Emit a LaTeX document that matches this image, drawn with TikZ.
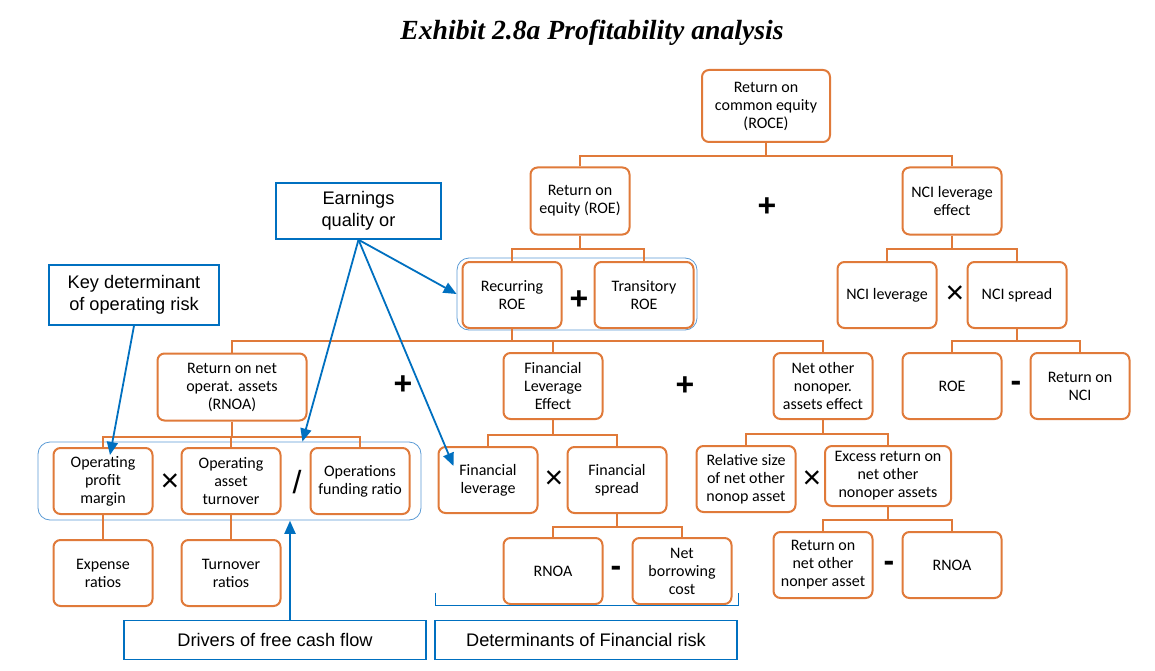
\documentclass[tikz,border=0pt]{standalone}
\usepackage{fontspec}
\setmainfont{Carlito}
\newfontfamily\labelfont{Liberation Sans}
\newfontfamily\titlefont{Liberation Serif}
\usetikzlibrary{arrows.meta,positioning,calc}
\definecolor{boxorange}{RGB}{224,122,58}
\definecolor{noteblue}{RGB}{0,112,192}
\definecolor{groupblue}{RGB}{91,155,213}
\tikzset{
    diagramblock/.style={draw=boxorange, line width=2pt, rounded corners=7pt, align=center, font=\fontsize{16}{18}\selectfont, minimum width=99, minimum height=66, inner sep=1pt},
    diagramnote/.style={draw=noteblue, line width=1.5pt, align=center, font=\labelfont\fontsize{18.2}{22}\selectfont, inner sep=2pt},
    diagramgroup/.style={draw=groupblue, line width=0.8pt, rounded corners=12pt},
    diagramop/.style={font=\labelfont\bfseries\fontsize{32}{32}\selectfont, inner sep=0pt},
    diagramtimes/.style={font=\labelfont\fontsize{32}{32}\selectfont, inner sep=0pt},
    diagramline/.style={draw=boxorange, line width=2pt},
    diagramarrow/.style={draw=noteblue, line width=1.8pt, -{Triangle[length=13pt,width=11pt]}}
}
\begin{document}
\begin{tikzpicture}[x=1pt, y=-1pt]
        \useasboundingbox[fill=white] (0,0) rectangle (1155,671);
        \node[font=\titlefont\bfseries\itshape\fontsize{27.7}{30}\selectfont] (title) at (592,33) {Exhibit 2.8a Profitability analysis};
        % blue groups behind the boxes
        \node[diagramgroup, minimum width=240, minimum height=72] (recgrp) at (577,294) {};
        \node[diagramgroup, minimum width=383, minimum height=78] (opgrp) at (229.5,481) {};
        % top of the tree
        \node[diagramblock, minimum width=128, minimum height=72] (roce) at (766,106) {Return on\\common equity\\(ROCE)};
        \node[diagramblock, minimum height=67] (roe) at (580,201) {Return on\\equity (ROE)};
        \node[diagramblock, minimum height=67] (ncieff) at (952,201) {NCI leverage\\effect};
        \node[diagramop] (opA) at (767,207) {+};
        \node[diagramblock] (recroe) at (512,295) {Recurring\\ROE};
        \node[diagramblock] (tranroe) at (644,295) {Transitory\\ROE};
        \node[diagramop] (opB) at (579,300) {+};
        \node[diagramblock] (ncilev) at (887,295) {NCI leverage};
        \node[diagramblock] (ncispr) at (1017,295) {NCI spread};
        \node[diagramtimes] (opC) at (955,295) {×};
        \node[diagramblock] (roeB) at (952,386) {ROE};
        \node[diagramblock] (retnci) at (1080,386) {Return on\\NCI};
        \node[diagramop] (opD) at (1016,386) {-};
        % recurring ROE split
        \node[diagramblock, minimum width=149, minimum height=67] (rnoa) at (232,387) {Return on net\\operat. assets\\(RNOA)};
        \node[diagramop] (opE) at (403,385) {+};
        \node[diagramblock] (fle) at (553,386) {Financial\\Leverage\\Effect};
        \node[diagramop] (opF) at (685,386) {+};
        \node[diagramblock] (nnoeff) at (823,386) {Net other\\nonoper.\\assets effect};
        % operating side
        \node[diagramblock] (opm) at (103,481) {Operating\\profit\\margin};
        \node[diagramblock] (oat) at (231,481) {Operating\\asset\\turnover};
        \node[diagramblock] (ofr) at (360,481) {Operations\\funding ratio};
        \node[diagramtimes] (opG) at (170,483) {×};
        \node[diagramtimes] (opH) at (297,482) {/};
        \node[diagramblock] (expr) at (103,573) {Expense\\ratios};
        \node[diagramblock] (turnr) at (231,573) {Turnover\\ratios};
        % financing side
        \node[diagramblock] (finlev) at (488,480) {Financial\\leverage};
        \node[diagramblock] (finspr) at (617,480) {Financial\\spread};
        \node[diagramtimes] (opI) at (554,480) {×};
        \node[diagramblock] (rnoaB) at (553,571) {RNOA};
        \node[diagramblock] (nbc) at (682,571) {Net\\borrowing\\cost};
        \node[diagramop] (opJ) at (616,571) {-};
        % nonoperating side
        \node[diagramblock] (relsize) at (746,479) {Relative size\\of net other\\nonop asset};
        \node[diagramblock, minimum width=126, minimum height=60] (excret) at (888,476) {Excess return on\\net other\\nonoper assets};
        \node[diagramtimes] (opK) at (812,480) {×};
        \node[diagramblock] (retnno) at (823,565) {Return on\\net other\\nonper asset};
        \node[diagramblock] (rnoaC) at (952,565) {RNOA};
        \node[diagramop] (opL) at (889,566) {-};
        % notes
        \node[diagramnote, minimum width=165, minimum height=56] (earn) at (358.5,211) {Earnings\\quality or};
        \node[diagramnote, minimum width=170, minimum height=60] (keydet) at (134,295) {Key determinant\\of operating risk};
        \node[diagramnote, minimum width=302, minimum height=39] (drivers) at (275,640) {Drivers of free cash flow};
        \node[diagramnote, minimum width=302, minimum height=39] (detfin) at (586,640) {Determinants of Financial risk};
        % tree lines
        \draw[diagramline] (roce.south) -- ++(0,13) coordinate (jroce);
        \draw[diagramline] (roe.north) |- (jroce) -| (ncieff.north);
        \draw[diagramline] (roe.south) -- ++(0,13) coordinate (jroe);
        \draw[diagramline] (recroe.north) |- (jroe) -| (tranroe.north);
        \draw[diagramline] (ncieff.south) -- ++(0,13) coordinate (jnci);
        \draw[diagramline] (ncilev.north) |- (jnci) -| (ncispr.north);
        \draw[diagramline] (ncispr.south) -- ++(0,12) coordinate (jspr);
        \draw[diagramline] (roeB.north) |- (jspr) -| (retnci.north);
        \draw[diagramline] (recroe.south) -- ++(0,12) coordinate (jrec);
        \draw[diagramline] (rnoa.north) |- (jrec) -| (nnoeff.north);
        \draw[diagramline] (fle.north) -- (fle.north |- jrec);
        \draw[diagramline] (rnoa.south) -- ++(0,15) coordinate (jrnoa);
        \draw[diagramline] (opm.north) |- (jrnoa) -| (ofr.north);
        \draw[diagramline] (oat.north) -- (oat.north |- jrnoa);
        \draw[diagramline] (opm.south) -- (expr.north);
        \draw[diagramline] (oat.south) -- (turnr.north);
        \draw[diagramline] (fle.south) -- ++(0,15) coordinate (jfle);
        \draw[diagramline] (finlev.north) |- (jfle) -| (finspr.north);
        \draw[diagramline] (finspr.south) -- ++(0,13) coordinate (jfs);
        \draw[diagramline] (rnoaB.north) |- (jfs) -| (nbc.north);
        \draw[diagramline] (nnoeff.south) -- ++(0,14) coordinate (jnno);
        \draw[diagramline] (relsize.north) |- (jnno) -| (excret.north);
        \draw[diagramline] (excret.south) -- ++(0,13) coordinate (jexc);
        \draw[diagramline] (retnno.north) |- (jexc) -| (rnoaC.north);
        % bracket over financial risk
        \draw[draw=noteblue, line width=0.6pt] ($(detfin.north west)+(1,-27)$) -- ++(0,13) -| ($(detfin.north east)+(1,-27)$);
        % blue arrows
        \draw[diagramarrow] (earn.south) -- (recgrp.west);
        \draw[diagramarrow] (earn.south) -- ($(opgrp.north west)!0.69!(opgrp.north east)$);
        \draw[diagramarrow] (earn.south) -- ($(finlev.west)+(16,-14)$);
        \draw[diagramarrow] (keydet.south) -- ($(opm.north)+(7,8)$);
        \draw[diagramarrow] ($(drivers.north)+(15,0)$) -- ++(0,-99);
    \end{tikzpicture}
\end{document}
